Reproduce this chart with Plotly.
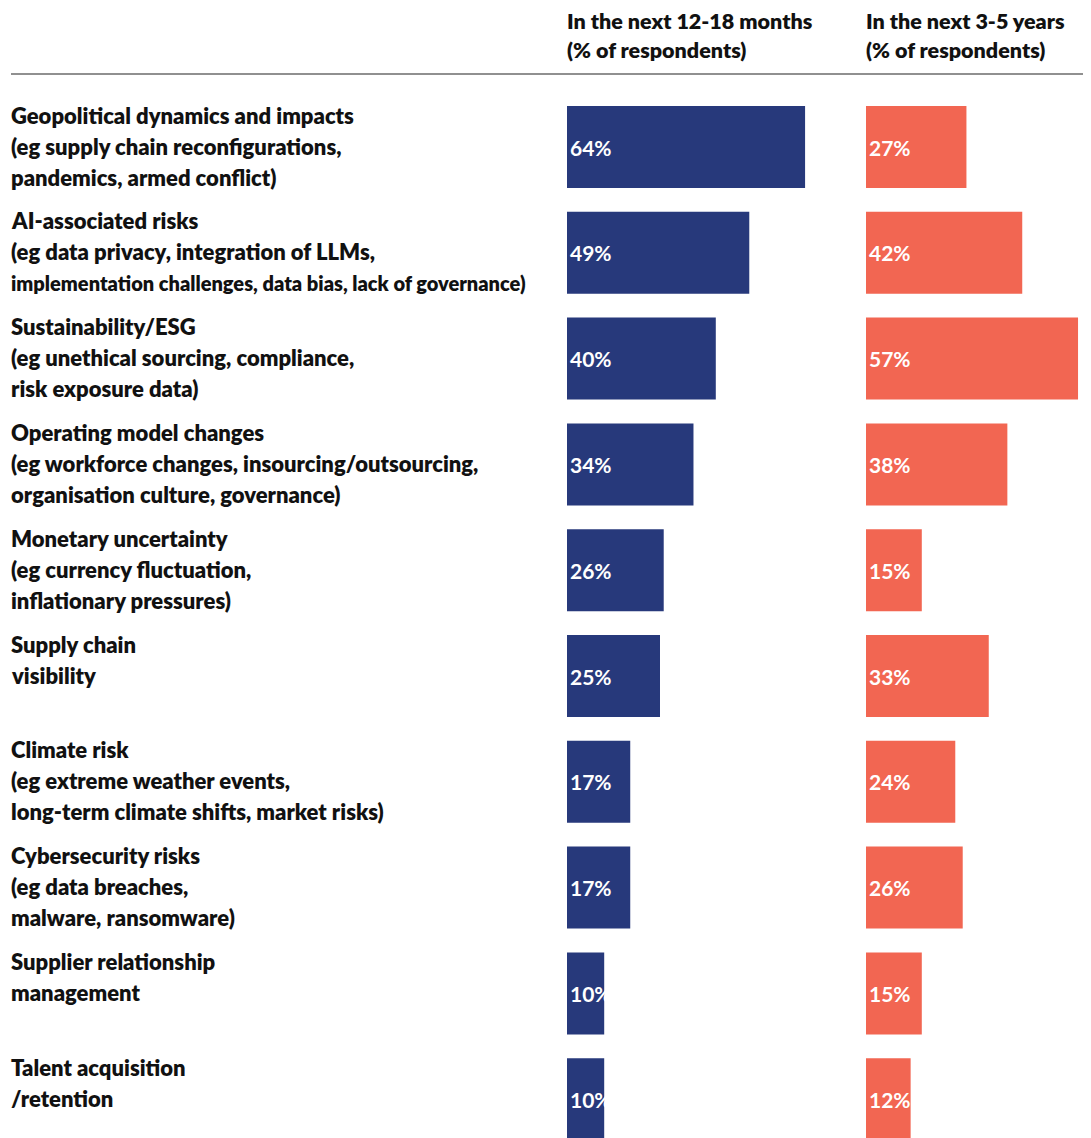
import plotly.graph_objects as go

categories = [
    "Geopolitical dynamics and impacts<br>(eg supply chain reconfigurations,<br>pandemics, armed conflict)",
    "AI-associated risks<br>(eg data privacy, integration of LLMs,<br>implementation challenges, data bias, lack of governance)",
    "Sustainability/ESG<br>(eg unethical sourcing, compliance,<br>risk exposure data)",
    "Operating model changes<br>(eg workforce changes, insourcing/outsourcing,<br>organisation culture, governance)",
    "Monetary uncertainty<br>(eg currency fluctuation,<br>inflationary pressures)",
    "Supply chain<br>visibility",
    "Climate risk<br>(eg extreme weather events,<br>long-term climate shifts, market risks)",
    "Cybersecurity risks<br>(eg data breaches,<br>malware, ransomware)",
    "Supplier relationship<br>management",
    "Talent acquisition<br>/retention",
]
near_term = [64, 49, 40, 34, 26, 25, 17, 17, 10, 10]
long_term = [27, 42, 57, 38, 15, 33, 24, 26, 15, 12]
headers = ["In the next 12-18 months<br>(% of respondents)", "In the next 3-5 years<br>(% of respondents)"]

NAVY = "#27397B"
CORAL = "#F26652"
TXT = "#111111"
FONT = "Lato"

W, H = 1091, 1138
ROW = 105.8          # px per row
C0 = 147             # px center of first row
PXPCT = 3.72         # px per percent

rows = list(range(len(categories)))

def bar(vals, color, xa):
    return go.Bar(
        x=vals, y=rows, orientation="h", marker=dict(color=color, line=dict(width=0)),
        width=82 / ROW, text=[f"{v}%" for v in vals], textposition="inside",
        insidetextanchor="start", constraintext="none", textangle=0,
        textfont=dict(color="white", size=21, family=FONT, weight=700),
        xaxis=xa, yaxis="y", hoverinfo="skip")

fig = go.Figure([bar(near_term, NAVY, "x"), bar(long_term, CORAL, "x2")])

x1_start, x2_start = 567, 866
x1_max = 70
x2_max = (W - x2_start) / PXPCT
ymin = (0 - C0) / ROW
ymax = (H - C0) / ROW

ann = []
for i, cat in enumerate(categories):
    for k, line in enumerate(cat.split("<br>")):
        size = 22 if len(line) <= 48 else 20
        ann.append(dict(
            x=9 / W, xref="paper", xanchor="left",
            y=i + (-32 + 31 * k) / ROW, yref="y", yanchor="middle",
            text=line, showarrow=False,
            font=dict(size=size, color=TXT, family=FONT, weight=800)))

for xs, h in zip([x1_start, x2_start], headers):
    for k, line in enumerate(h.split("<br>")):
        ann.append(dict(
            x=(xs - 2) / W, xref="paper", xanchor="left",
            y=1 - (21 + 29 * k) / H, yref="paper", yanchor="middle",
            text=line, showarrow=False,
            font=dict(size=21.5, color=TXT, family=FONT, weight=800)))

fig.update_layout(
    width=W, height=H, margin=dict(l=0, r=0, t=0, b=0),
    paper_bgcolor="white", plot_bgcolor="white", showlegend=False,
    barmode="overlay",
    xaxis=dict(domain=[x1_start / W, (x1_start + PXPCT * x1_max) / W], range=[0, x1_max],
               visible=False, fixedrange=True),
    xaxis2=dict(domain=[x2_start / W, 1], range=[0, x2_max], visible=False, fixedrange=True),
    yaxis=dict(domain=[0, 1], range=[ymax, ymin], visible=False, fixedrange=True),
    annotations=ann,
    shapes=[dict(type="line", xref="paper", yref="paper", x0=11 / W, x1=1083 / W,
                 y0=1 - 74 / H, y1=1 - 74 / H, line=dict(color="#222222", width=1.2))],
)

fig.write_html("out.html")
